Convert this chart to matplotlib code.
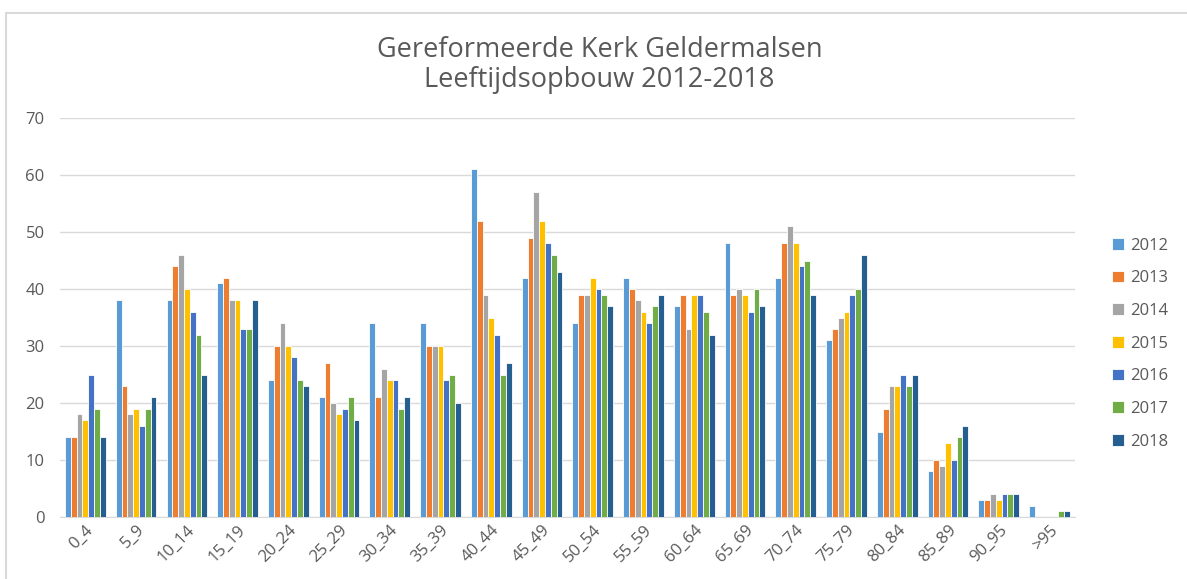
import numpy as np
import matplotlib
matplotlib.use("Agg")
import matplotlib.pyplot as plt
from matplotlib.patches import Rectangle

# Leeftijdsgroepen
groepen = ["0_4", "5_9", "10_14", "15_19", "20_24", "25_29", "30_34", "35_39",
           "40_44", "45_49", "50_54", "55_59", "60_64", "65_69", "70_74",
           "75_79", "80_84", "85_89", "90_95", ">95"]

jaren = ["2012", "2013", "2014", "2015", "2016", "2017", "2018"]

v2012 = [14, 38, 38, 41, 24, 21, 34, 34, 61, 42, 34, 42, 37, 48, 42, 31, 15, 8, 3, 2]
v2013 = [14, 23, 44, 42, 30, 27, 21, 30, 52, 49, 39, 40, 39, 39, 48, 33, 19, 10, 3, 0]
v2014 = [18, 18, 46, 38, 34, 20, 26, 30, 39, 57, 39, 38, 33, 40, 51, 35, 23, 9, 4, 0]
v2015 = [17, 19, 40, 38, 30, 18, 24, 30, 35, 52, 42, 36, 39, 39, 48, 36, 23, 13, 3, 0]
v2016 = [25, 16, 36, 33, 28, 19, 24, 24, 32, 48, 40, 34, 39, 36, 44, 39, 25, 10, 4, 0]
v2017 = [19, 19, 32, 33, 24, 21, 19, 25, 25, 46, 39, 37, 36, 40, 45, 40, 23, 14, 4, 1]
v2018 = [14, 21, 25, 38, 23, 17, 21, 20, 27, 43, 37, 39, 32, 37, 39, 46, 25, 16, 4, 1]

reeksen = [v2012, v2013, v2014, v2015, v2016, v2017, v2018]
kleuren = ["#5B9BD5", "#ED7D31", "#A5A5A5", "#FFC000", "#4472C4", "#70AD47", "#255E91"]

grijs = "#595959"
plt.rcParams['font.family'] = ['Open Sans', 'DejaVu Sans']

fig = plt.figure(figsize=(11.87, 5.79), dpi=100)
ax = fig.add_axes([0.0505, 0.107, 0.855, 0.689])

# rand om de grafiek
fig.patches.append(Rectangle((0.005, -0.01), 1.0, 0.988, transform=fig.transFigure,
                             fill=False, edgecolor="#D9D9D9", linewidth=1.5))

x = np.arange(len(groepen))
breedte = 0.8 / len(jaren)
for i, (jaar, vals, kl) in enumerate(zip(jaren, reeksen, kleuren)):
    pos = x - 0.4 + breedte * (i + 0.5)
    ax.bar(pos, vals, width=breedte, color=kl, edgecolor="white", linewidth=0.6,
           label=jaar, zorder=3)

ax.set_xlim(-0.5, len(groepen) - 0.5)
ax.set_ylim(0, 70)
ax.set_yticks(range(0, 71, 10))
ax.yaxis.grid(True, color="#D9D9D9", linewidth=1)
ax.set_axisbelow(True)
for s in ["top", "right", "left"]:
    ax.spines[s].set_visible(False)
ax.spines["bottom"].set_color("#D9D9D9")
ax.tick_params(axis="both", length=0, colors=grijs, labelsize=12)
ax.tick_params(axis="y", pad=11)
ax.set_xticks(x)
ax.set_xticklabels(groepen, rotation=45, ha="right", rotation_mode="anchor")

fig.text(0.505, 0.914, "Gereformeerde Kerk Geldermalsen", ha="center", va="center",
         fontsize=19.5, color=grijs)
fig.text(0.505, 0.861, "Leeftijdsopbouw 2012-2018", ha="center", va="center",
         fontsize=19.5, color=grijs)

ax.legend(loc="center left", bbox_to_anchor=(1.022, 0.435), frameon=False,
          fontsize=12, labelcolor=grijs, handlelength=0.7, handleheight=0.7,
          labelspacing=1.0, handletextpad=0.4)

fig.savefig("out.png", dpi=100)
